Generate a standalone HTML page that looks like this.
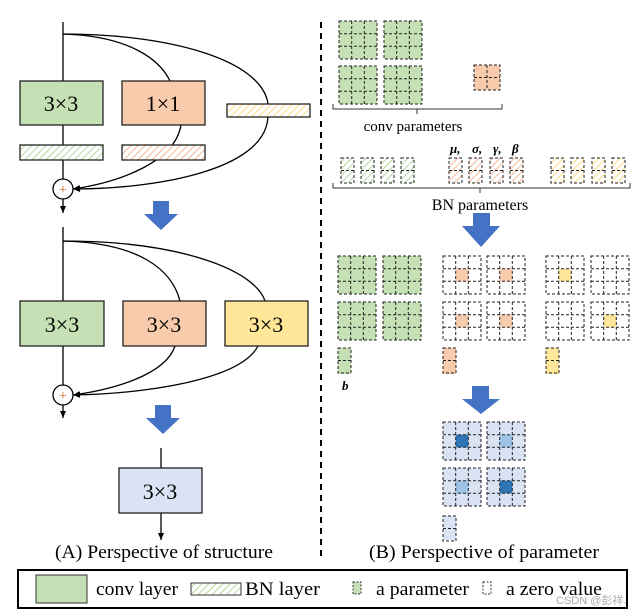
<!DOCTYPE html>
<html><head><meta charset="utf-8"><style>
html,body{margin:0;padding:0;background:#fff;}
svg{display:block;font-family:"Liberation Serif",serif;}
</style></head><body>
<svg width="637" height="615" viewBox="0 0 637 615" xmlns="http://www.w3.org/2000/svg">
<defs>
<pattern id="hg" width="5" height="5" patternUnits="userSpaceOnUse" patternTransform="rotate(45)"><rect width="5" height="5" fill="#fff"/><line x1="0" y1="0" x2="0" y2="5" stroke="#b5d7a0" stroke-width="2"/></pattern>
<pattern id="ho" width="5" height="5" patternUnits="userSpaceOnUse" patternTransform="rotate(45)"><rect width="5" height="5" fill="#fff"/><line x1="0" y1="0" x2="0" y2="5" stroke="#f3b89a" stroke-width="2"/></pattern>
<pattern id="hy" width="5" height="5" patternUnits="userSpaceOnUse" patternTransform="rotate(45)"><rect width="5" height="5" fill="#fff"/><line x1="0" y1="0" x2="0" y2="5" stroke="#fbdc82" stroke-width="2"/></pattern>
<marker id="ar" markerWidth="8" markerHeight="8" refX="7" refY="4" orient="auto" markerUnits="userSpaceOnUse"><path d="M0,1 L7,4 L0,7 z" fill="#000"/></marker>
<g id="g3" fill="none" stroke="#222" stroke-width="1" stroke-dasharray="3 2"><rect x="0" y="0" width="38" height="38"/><line x1="12.7" y1="0" x2="12.7" y2="38"/><line x1="25.3" y1="0" x2="25.3" y2="38"/><line x1="0" y1="12.7" x2="38" y2="12.7"/><line x1="0" y1="25.3" x2="38" y2="25.3"/></g>
<g id="g2" fill="none" stroke="#222" stroke-width="1" stroke-dasharray="3 2"><rect x="0" y="0" width="26" height="25"/><line x1="13" y1="0" x2="13" y2="25"/><line x1="0" y1="12.5" x2="26" y2="12.5"/></g>
<g id="b2" fill="none" stroke="#222" stroke-width="1" stroke-dasharray="3 2"><rect x="0" y="0" width="13" height="25"/><line x1="0" y1="12.5" x2="13" y2="12.5"/></g>
</defs>

<line x1="321" y1="22" x2="321" y2="560" stroke="#000" stroke-width="2" stroke-dasharray="6 5"/>

<g stroke="#000" stroke-width="1.3" fill="none">
<line x1="63" y1="22" x2="63" y2="179"/>
<path d="M63,34 C130,36 160,60 170,81"/>
<path d="M63,34 C170,34 262,60 268,104"/>
<path d="M181,125 C175,162 120,182 73,189" marker-end="url(#ar)"/>
<path d="M268,117 C265,172 150,189 73,189" marker-end="url(#ar)"/>
<line x1="63" y1="199" x2="63" y2="213" marker-end="url(#ar)"/>
</g>
<rect x="20" y="81" width="83" height="44" fill="#c5e0b4" stroke="#222" stroke-width="1.3"/>
<rect x="122" y="81" width="83" height="44" fill="#f8cbad" stroke="#222" stroke-width="1.3"/>
<rect x="227" y="104" width="83" height="13" fill="url(#hy)" stroke="#222" stroke-width="1.3"/>
<rect x="20" y="145" width="83" height="15" fill="url(#hg)" stroke="#222" stroke-width="1.3"/>
<rect x="122" y="145" width="83" height="15" fill="url(#ho)" stroke="#222" stroke-width="1.3"/>
<text x="61" y="111" font-size="22" text-anchor="middle">3×3</text>
<text x="163" y="111" font-size="22" text-anchor="middle">1×1</text>
<circle cx="63" cy="189" r="10" fill="#fff" stroke="#000" stroke-width="1.3"/>
<text x="63" y="194" font-size="14" text-anchor="middle" fill="#c55a11">+</text>
<polygon points="153,201 169,201 169,214 178,214 161,230 144,214 153,214" fill="#4472c4"/>

<g stroke="#000" stroke-width="1.3" fill="none">
<line x1="63" y1="227" x2="63" y2="385"/>
<path d="M63,241 C140,243 172,270 180,301"/>
<path d="M63,241 C180,241 255,270 265,301"/>
<path d="M175,346 C165,376 110,390 73,395" marker-end="url(#ar)"/>
<path d="M258,346 C240,381 140,394 73,395" marker-end="url(#ar)"/>
<line x1="63" y1="405" x2="63" y2="418" marker-end="url(#ar)"/>
<line x1="161" y1="448" x2="161" y2="468"/>
<line x1="161" y1="513" x2="161" y2="540" marker-end="url(#ar)"/>
</g>
<rect x="20" y="301" width="84" height="45" fill="#c5e0b4" stroke="#222" stroke-width="1.3"/>
<rect x="123" y="301" width="83" height="45" fill="#f8cbad" stroke="#222" stroke-width="1.3"/>
<rect x="225" y="301" width="83" height="45" fill="#ffe699" stroke="#222" stroke-width="1.3"/>
<text x="62" y="332" font-size="22" text-anchor="middle">3×3</text>
<text x="164" y="332" font-size="22" text-anchor="middle">3×3</text>
<text x="266" y="332" font-size="22" text-anchor="middle">3×3</text>
<circle cx="63" cy="395" r="10" fill="#fff" stroke="#000" stroke-width="1.3"/>
<text x="63" y="400" font-size="14" text-anchor="middle" fill="#c55a11">+</text>
<polygon points="155,405 171,405 171,418 180,418 163,434 146,418 155,418" fill="#4472c4"/>
<rect x="119" y="468" width="83" height="45" fill="#dae3f3" stroke="#222" stroke-width="1.3"/>
<text x="160" y="499" font-size="22" text-anchor="middle">3×3</text>

<text x="55" y="558" font-size="19" textLength="218" lengthAdjust="spacingAndGlyphs">(A) Perspective of structure</text>
<text x="369" y="558" font-size="19" textLength="230" lengthAdjust="spacingAndGlyphs">(B) Perspective of parameter</text>

<rect x="339" y="21" width="38" height="38" fill="#c5e0b4"/><use href="#g3" x="339" y="21"/>
<rect x="384" y="21" width="38" height="38" fill="#c5e0b4"/><use href="#g3" x="384" y="21"/>
<rect x="339" y="66" width="38" height="38" fill="#c5e0b4"/><use href="#g3" x="339" y="66"/>
<rect x="384" y="66" width="38" height="38" fill="#c5e0b4"/><use href="#g3" x="384" y="66"/>
<rect x="474" y="65" width="26" height="25" fill="#f8cbad"/><use href="#g2" x="474" y="65"/>
<path d="M333,104 v5 h84 v5 M417,109 h85 v-5" fill="none" stroke="#333" stroke-width="1"/>
<text x="413" y="131" font-size="15" text-anchor="middle">conv parameters</text>

<g font-size="13" font-weight="bold" font-style="italic">
<text x="450" y="153">μ,</text><text x="472" y="153">σ,</text><text x="493" y="153">γ,</text><text x="512" y="153">β</text>
</g>
<rect x="341" y="158" width="13" height="25" fill="url(#hg)"/><use href="#b2" x="341" y="158"/>
<rect x="361" y="158" width="13" height="25" fill="url(#hg)"/><use href="#b2" x="361" y="158"/>
<rect x="381" y="158" width="13" height="25" fill="url(#hg)"/><use href="#b2" x="381" y="158"/>
<rect x="401" y="158" width="13" height="25" fill="url(#hg)"/><use href="#b2" x="401" y="158"/>
<rect x="449" y="158" width="13" height="25" fill="url(#ho)"/><use href="#b2" x="449" y="158"/>
<rect x="469" y="158" width="13" height="25" fill="url(#ho)"/><use href="#b2" x="469" y="158"/>
<rect x="490" y="158" width="13" height="25" fill="url(#ho)"/><use href="#b2" x="490" y="158"/>
<rect x="510" y="158" width="13" height="25" fill="url(#ho)"/><use href="#b2" x="510" y="158"/>
<rect x="551" y="158" width="13" height="25" fill="url(#hy)"/><use href="#b2" x="551" y="158"/>
<rect x="571" y="158" width="13" height="25" fill="url(#hy)"/><use href="#b2" x="571" y="158"/>
<rect x="592" y="158" width="13" height="25" fill="url(#hy)"/><use href="#b2" x="592" y="158"/>
<rect x="612" y="158" width="13" height="25" fill="url(#hy)"/><use href="#b2" x="612" y="158"/>
<path d="M333,183 v5 h147 v5 M480,188 h150 v-5" fill="none" stroke="#333" stroke-width="1"/>
<text x="480" y="210" font-size="16" text-anchor="middle">BN parameters</text>
<polygon points="473,213 490,213 490,226 500,226 481,247 462,226 473,226" fill="#4472c4"/>

<rect x="338" y="256" width="38" height="38" fill="#c5e0b4"/><use href="#g3" x="338" y="256"/>
<rect x="383" y="256" width="38" height="38" fill="#c5e0b4"/><use href="#g3" x="383" y="256"/>
<rect x="338" y="302" width="38" height="38" fill="#c5e0b4"/><use href="#g3" x="338" y="302"/>
<rect x="383" y="302" width="38" height="38" fill="#c5e0b4"/><use href="#g3" x="383" y="302"/>
<rect x="455.7" y="268.7" width="12.6" height="12.6" fill="#f8cbad"/><use href="#g3" x="443" y="256"/>
<rect x="499.7" y="268.7" width="12.6" height="12.6" fill="#f8cbad"/><use href="#g3" x="487" y="256"/>
<rect x="455.7" y="314.7" width="12.6" height="12.6" fill="#f8cbad"/><use href="#g3" x="443" y="302"/>
<rect x="499.7" y="314.7" width="12.6" height="12.6" fill="#f8cbad"/><use href="#g3" x="487" y="302"/>
<rect x="558.7" y="268.7" width="12.6" height="12.6" fill="#ffe699"/><use href="#g3" x="546" y="256"/>
<use href="#g3" x="591" y="256"/>
<use href="#g3" x="546" y="302"/>
<rect x="603.7" y="314.7" width="12.6" height="12.6" fill="#ffe699"/><use href="#g3" x="591" y="302"/>
<rect x="338" y="348" width="13" height="26" fill="#c5e0b4"/><use href="#b2" x="338" y="348"/>
<rect x="443" y="348" width="13" height="26" fill="#f8cbad"/><use href="#b2" x="443" y="348"/>
<rect x="546" y="348" width="13" height="26" fill="#ffe699"/><use href="#b2" x="546" y="348"/>
<text x="342" y="390" font-size="13" font-weight="bold" font-style="italic">b</text>
<polygon points="472,386 489,386 489,399 500,399 481,414 462,399 472,399" fill="#4472c4"/>

<rect x="443" y="422" width="38" height="38" fill="#dae3f3"/><rect x="455.7" y="434.7" width="12.6" height="12.6" fill="#2e75b6"/><use href="#g3" x="443" y="422"/>
<rect x="487" y="422" width="38" height="38" fill="#dae3f3"/><rect x="499.7" y="434.7" width="12.6" height="12.6" fill="#9dc3e6"/><use href="#g3" x="487" y="422"/>
<rect x="443" y="468" width="38" height="38" fill="#dae3f3"/><rect x="455.7" y="480.7" width="12.6" height="12.6" fill="#9dc3e6"/><use href="#g3" x="443" y="468"/>
<rect x="487" y="468" width="38" height="38" fill="#dae3f3"/><rect x="499.7" y="480.7" width="12.6" height="12.6" fill="#2e75b6"/><use href="#g3" x="487" y="468"/>
<rect x="443" y="516" width="13" height="24" fill="#dae3f3"/><use href="#b2" x="443" y="516"/>

<rect x="18" y="570" width="609" height="38" fill="#fff" stroke="#000" stroke-width="2"/>
<rect x="36" y="575" width="51" height="28" fill="#c5e0b4" stroke="#333" stroke-width="1"/>
<text x="96" y="595" font-size="19" textLength="82" lengthAdjust="spacingAndGlyphs">conv layer</text>
<rect x="191" y="583" width="50" height="12" fill="url(#hg)" stroke="#333" stroke-width="1"/>
<text x="245" y="595" font-size="19" textLength="75" lengthAdjust="spacingAndGlyphs">BN layer</text>
<rect x="353" y="582" width="8" height="12" fill="#c5e0b4" stroke="#333" stroke-width="1" stroke-dasharray="2 1.5"/>
<text x="376" y="595" font-size="19" textLength="93" lengthAdjust="spacingAndGlyphs">a parameter</text>
<rect x="483" y="582" width="8" height="12" fill="#fff" stroke="#333" stroke-width="1" stroke-dasharray="2 1.5"/>
<text x="506" y="595" font-size="19" textLength="96" lengthAdjust="spacingAndGlyphs">a zero value</text>
<text x="556" y="604" font-size="11" fill="#aaa" font-family="Liberation Sans, Noto Sans CJK SC, sans-serif">CSDN @彭祥.</text>
</svg>
</body></html>
